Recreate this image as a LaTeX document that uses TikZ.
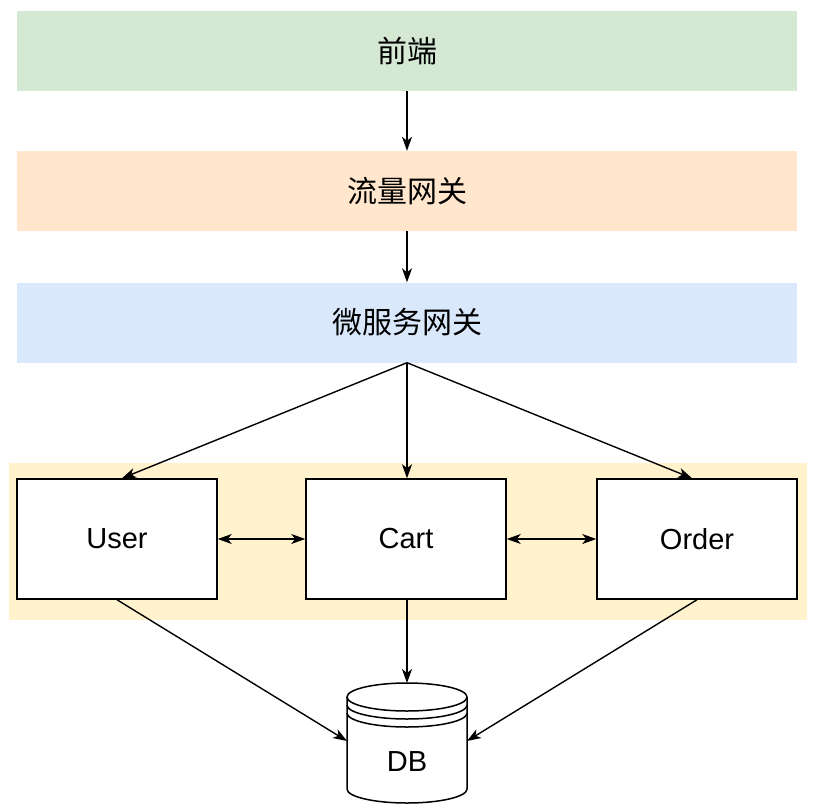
\documentclass[tikz,border=0pt]{standalone}
\usepackage{fontspec}
\setmainfont{Liberation Sans}
\newfontfamily\cjk{Noto Sans CJK SC}
\usetikzlibrary{arrows.meta}
\begin{document}
\begin{tikzpicture}[x=1pt,y=-1pt,
  bar/.style={rectangle,draw=none,minimum width=780pt,minimum height=80pt,inner sep=0pt,font=\cjk\fontsize{30}{34}\selectfont},
  svc/.style={rectangle,draw=black,line width=1.5pt,fill=white,minimum width=200pt,minimum height=120pt,inner sep=0pt,font=\fontsize{29}{33}\selectfont},
  conn/.style={line width=1.4pt,-{Stealth[length=14pt,width=10pt,inset=4pt]}},
  dconn/.style={line width=1.4pt,{Stealth[length=14pt,width=10pt,inset=4pt]}-{Stealth[length=14pt,width=10pt,inset=4pt]}}]
\useasboundingbox (0,0) rectangle (814,808);
\node[bar,fill={rgb,255:red,213;green,232;blue,212}] (fe) at (407,51) {前端};
\node[bar,fill={rgb,255:red,255;green,230;blue,204}] (gw) at (407,191) {流量网关};
\node[bar,fill={rgb,255:red,218;green,232;blue,252}] (mgw) at (407,322.5) {微服务网关};
\node[rectangle,draw=none,fill={rgb,255:red,255;green,242;blue,204},minimum width=798pt,minimum height=157pt,inner sep=0pt] (band) at (408,541.5) {};
\node[svc] (user) at (117,539) {User};
\node[svc] (cart) at (406,539) {Cart};
\node[svc] (order) at (697,539) {Order};
% DB cylinder
\fill[white] (347,697) -- (347,789) arc[start angle=180,end angle=0,x radius=60,y radius=14] -- (467,697) arc[start angle=0,end angle=-180,x radius=60,y radius=14] -- cycle;
\draw[line width=1.5pt] (347,697) -- (347,789) arc[start angle=180,end angle=0,x radius=60,y radius=14] -- (467,697);
\draw[line width=1.5pt] (407,697) ellipse[x radius=60,y radius=14];
\draw[line width=1.5pt] (347,705) arc[start angle=180,end angle=0,x radius=60,y radius=14];
\draw[line width=1.5pt] (347,713) arc[start angle=180,end angle=0,x radius=60,y radius=14];
\node[font=\fontsize{29}{33}\selectfont] (db) at (407,762) {DB};
\coordinate (dbtop) at (407,683);
\coordinate (dbl) at (347,741);
\coordinate (dbr) at (467,741);
\draw[conn] (fe.south) -- (gw.north);
\draw[conn] (gw.south) -- (mgw.north);
\draw[conn] (mgw.south) -- ([xshift=5pt]user.north);
\draw[conn] (mgw.south) -- ([xshift=1pt]cart.north);
\draw[conn] (mgw.south) -- ([xshift=-5pt]order.north);
\draw[dconn] (user.east) -- (cart.west);
\draw[dconn] (cart.east) -- (order.west);
\draw[conn] (user.south) -- (dbl);
\draw[conn] ([xshift=1pt]cart.south) -- (dbtop);
\draw[conn] (order.south) -- (dbr);
\end{tikzpicture}
\end{document}
